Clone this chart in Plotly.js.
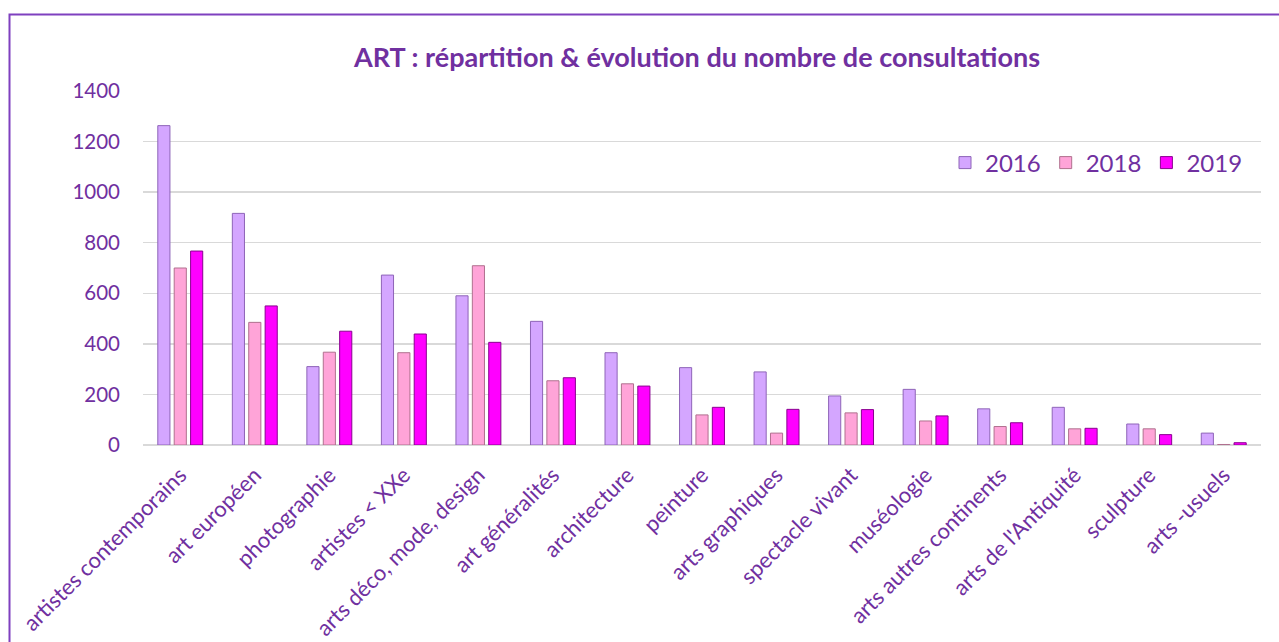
<!DOCTYPE html>
<html>
<head>
<meta charset="utf-8">
<script src="https://cdn.plot.ly/plotly-3.0.1.min.js"></script>
<style>
html,body{margin:0;padding:0;background:#fff;overflow:hidden;}
#chart{width:1279px;height:642px;}
</style>
</head>
<body>
<div id="chart"></div>
<script>
const categories = ["artistes contemporains","art européen","photographie","artistes < XXe","arts déco, mode, design","art généralités","architecture","peinture","arts graphiques","spectacle vivant","muséologie","arts autres continents","arts de l'Antiquité","sculpture","arts -usuels"];
const values2016 = [1263, 916, 310, 672, 590, 489, 365, 306, 289, 194, 220, 143, 149, 83, 47];
const values2018 = [700, 485, 367, 365, 709, 254, 242, 119, 47, 127, 95, 73, 64, 64, 2];
const values2019 = [767, 550, 450, 439, 406, 266, 233, 149, 141, 140, 115, 88, 66, 41, 9];
const seriesNames = ["2016","2018","2019"];
const yTicks = [0,200,400,600,800,1000,1200,1400];

const purple = "#7030A0";
const font = "Lato, 'Open Sans', sans-serif";
const colors = ["#D4A6FF","#FFA4D8","#FF00FF"];
const lines = ["#8E64B8","#B0708E","#8A0090"];
const all = [values2016, values2018, values2019];

const traces = all.map((v,i)=>({
  type:"bar", name:seriesNames[i], x:categories, y:v,
  marker:{color:colors[i], line:{color:lines[i], width:1}},
  hoverinfo:"x+y+name"
}));

const L=143, R=1261, T=91, B=445, W=1279, H=642;
const px = x => (x-L)/(R-L);
const py = y => (B-y)/(B-T);

const layout = {
  width:W, height:H,
  margin:{l:L, r:W-R, t:T, b:H-B, pad:0},
  paper_bgcolor:"#fff", plot_bgcolor:"#fff",
  font:{family:font, color:purple},
  title:{text:"<b>ART : répartition & évolution du nombre de consultations</b>",
    font:{family:font, size:27, color:purple},
    x:px(697), xref:"paper", xanchor:"center", y:1-58/H, yref:"container", yanchor:"middle"},
  barmode:"group", bargap:0.34, bargroupgap:0.26,
  xaxis:{tickangle:-45, tickfont:{size:22, color:purple, family:font},
    showgrid:false, showline:false, zeroline:false, ticks:"", ticklabelstandoff:12, fixedrange:true},
  yaxis:{range:[0,1400], tickvals:yTicks, ticktext:yTicks.map(String),
    tickfont:{size:20.5, color:purple, family:font},
    gridcolor:"#D9D9D9", gridwidth:1.5, zeroline:true, zerolinecolor:"#D9D9D9", zerolinewidth:1.5,
    showline:false, ticks:"", ticklabelstandoff:22, fixedrange:true},
  legend:{orientation:"h", x:px(1248), xanchor:"right", y:py(163), yanchor:"middle",
    font:{size:24, color:purple, family:font}, bgcolor:"rgba(0,0,0,0)", itemwidth:30, traceorder:"normal"},
  shapes:[{type:"rect", xref:"paper", yref:"paper",
    x0:px(9.5), x1:px(1300), y0:py(660), y1:py(14.5),
    line:{color:"#7F40BF", width:2}, fillcolor:"rgba(0,0,0,0)", layer:"above"}]
};

Plotly.newPlot("chart", traces, layout, {displayModeBar:false, staticPlot:true});
</script>
</body>
</html>
